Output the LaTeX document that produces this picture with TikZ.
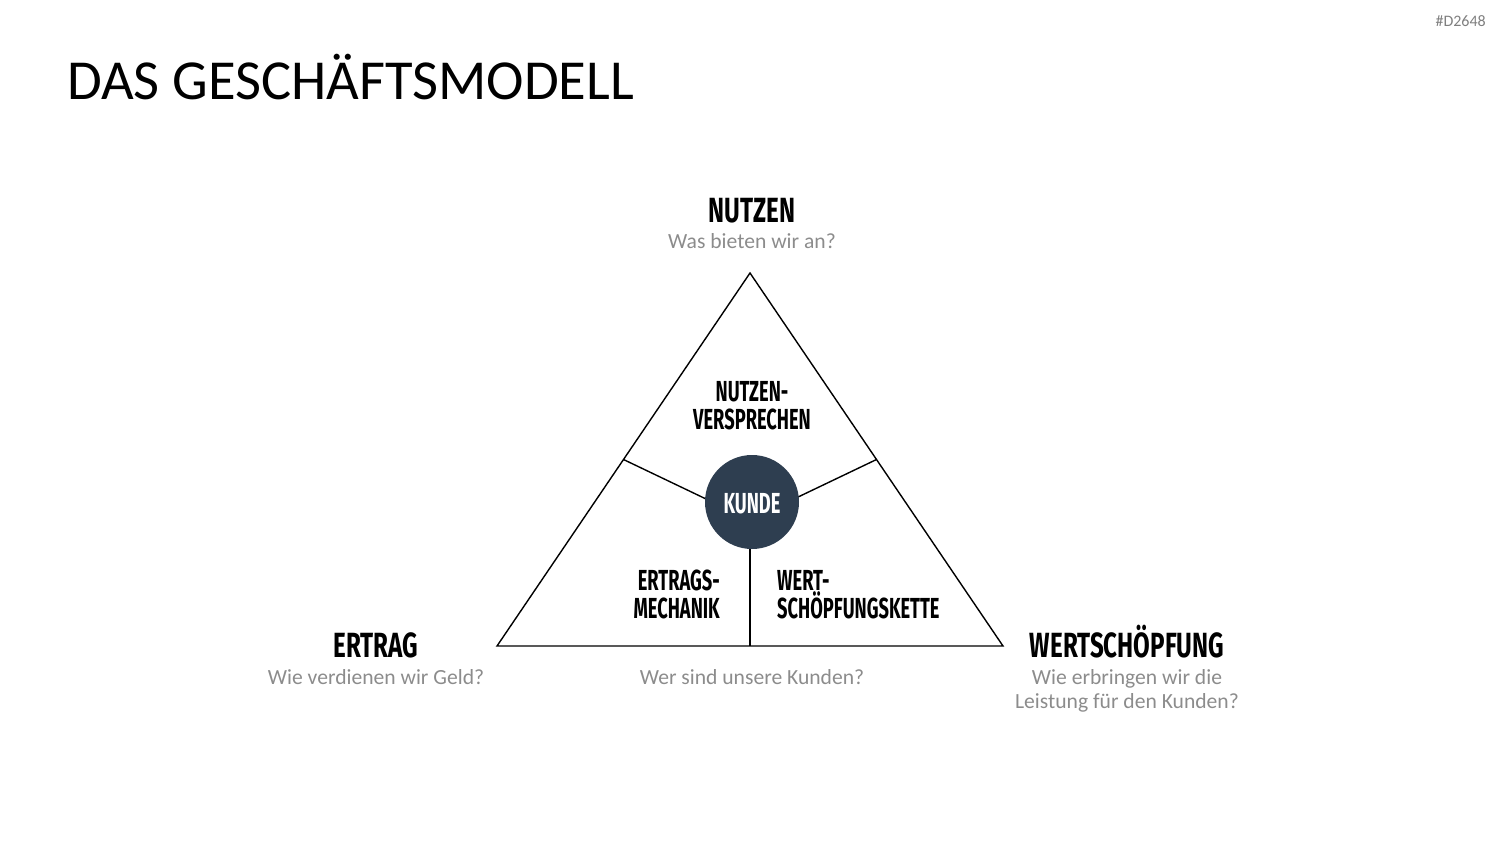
\documentclass[tikz,border=0pt]{standalone}
\usepackage{fontspec}
\usetikzlibrary{calc}
\setmainfont{Carlito}
\newfontfamily\bebasbig[FakeStretch=0.69]{Fira Sans}
\newfontfamily\bebas[FakeStretch=0.63]{Fira Sans}
\definecolor{navy}{HTML}{2E3E50}
\definecolor{subgray}{HTML}{8C8C8C}
\definecolor{idgray}{HTML}{7F7F7F}
\tikzset{
  big/.style={font=\bebasbig\bfseries\fontsize{35}{35}\selectfont, inner sep=0pt},
  inner/.style={font=\bebas\bfseries\fontsize{29}{29}\selectfont, inner sep=0pt},
  sub/.style={font=\fontsize{21.6}{24}\selectfont, text=subgray, inner sep=0pt},
  edge/.style={line width=1.4pt, black},
}
\begin{document}
\begin{tikzpicture}[x=1pt,y=-1pt]
\useasboundingbox (0,0) rectangle (1500,844);
% title
\node[anchor=base west, inner sep=0pt, font=\fontsize{56.5}{56.5}\selectfont] (title) at (67,99) {DAS GESCHÄFTSMODELL};
\node[anchor=base east, inner sep=0pt, font=\fontsize{16}{16}\selectfont, text=idgray] (id) at (1486,26) {\#D2648};
% triangle
\coordinate (A) at (750,273);
\coordinate (B) at (497,646);
\coordinate (C) at (1003,646);
\coordinate (ML) at ($(A)!0.5!(B)$);
\coordinate (MR) at ($(A)!0.5!(C)$);
\coordinate (MB) at (750,646);
\coordinate (G) at (750,520);
\draw[edge, line join=miter] (A) -- (B) -- (C) -- cycle;
\draw[edge] (ML) -- (G) -- (MR);
\draw[edge] (G) -- (MB);
\node[circle, fill=navy, minimum size=94pt, inner sep=0pt] (kreis) at (752,502) {};
\node[inner, text=white, anchor=base] (kunde) at (752,513) {KUNDE};
% inner texts
\node[inner, anchor=base] (nv1) at (752,401) {NUTZEN-};
\node[inner, anchor=base] (nv2) at (752,429) {VERSPRECHEN};
\node[inner, anchor=base east] (em1) at (720,590) {ERTRAGS-};
\node[inner, anchor=base east] (em2) at (720,618) {MECHANIK};
\node[inner, anchor=base west] (ws1) at (777,590) {WERT-};
\node[inner, anchor=base west] (ws2) at (777,618) {SCHÖPFUNGSKETTE};
% outer labels
\node[big, anchor=base] (nutzen) at (752,222) {NUTZEN};
\node[sub, anchor=base] (nutzensub) at (752,248) {Was bieten wir an?};
\node[big, anchor=base] (ertrag) at (376,657) {ERTRAG};
\node[sub, anchor=base] (ertragsub) at (376,684) {Wie verdienen wir Geld?};
\node[sub, anchor=base] (kundensub) at (752,684) {Wer sind unsere Kunden?};
\node[big, anchor=base] (wert) at (1127,657) {WERTSCHÖPFUNG};
\node[sub, anchor=base] (wertsub1) at (1127,684) {Wie erbringen wir die};
\node[sub, anchor=base] (wertsub2) at (1127,708) {Leistung für den Kunden?};
\end{tikzpicture}
\end{document}
